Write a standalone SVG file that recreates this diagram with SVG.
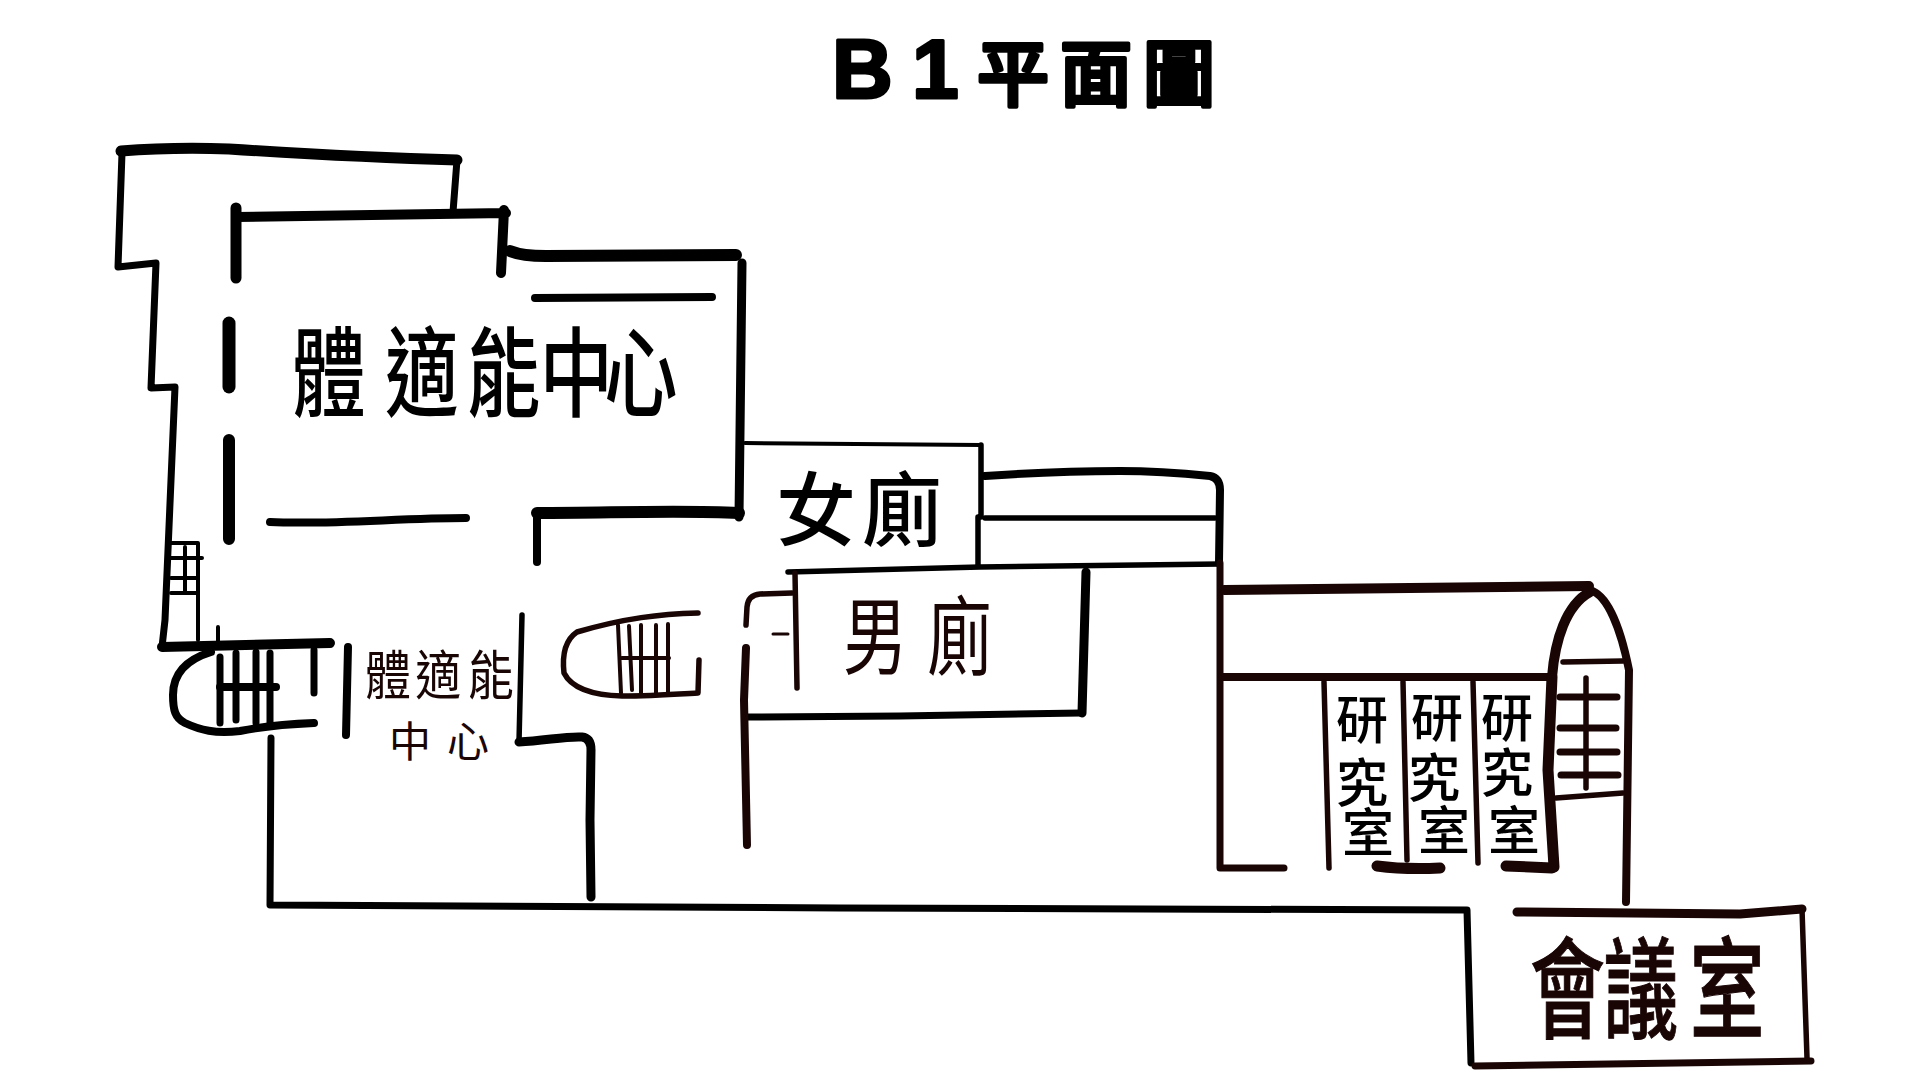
<svg xmlns="http://www.w3.org/2000/svg" width="1920" height="1080" viewBox="0 0 1920 1080">
<style>
path{fill:none;stroke:#000;stroke-linecap:round;stroke-linejoin:round}
.d path,path.d{stroke:#1a0505}
.w3{stroke-width:3}.w4{stroke-width:4}.w5{stroke-width:5.5}.w6{stroke-width:7}.w7{stroke-width:8}.w8{stroke-width:9}.w9{stroke-width:10}.w10{stroke-width:11}.w11{stroke-width:12}.w12{stroke-width:13}
text{font-family:"Noto Sans CJK TC","Noto Sans CJK SC",sans-serif;fill:#000}
.dt{fill:#1a0505}
</style>
<rect width="1920" height="1080" fill="#fff"/>
<g id="title"><text y="98" font-size="72" font-weight="500" stroke="#000" stroke-width="4" stroke-linejoin="round"><tspan font-family="Liberation Sans" font-weight="700" font-size="84" stroke-width="3" x="832 912">B1</tspan><tspan x="977 1060 1143" y="100">平面圖</tspan></text></g>
<g id="fitness-walls">
<path class="w10" d="M121 151C160 148 200 148 229 149C290 153 380 158 457 160"/>
<path class="w6" d="M457 160L453 212M122 153L118 267L156 263L151 388L175 387L165 620L162 647"/>
<path class="w9" d="M236 217L506 213M504 210L501 273"/>
<path class="w10" d="M236 208L236 278"/>
<path class="w11" d="M510 251C520 255 535 256 546 256L736 255"/>
<path class="w8" d="M742 263L739 517"/>
<path class="w7" d="M535 298L712 297M270 522C330 525 400 518 466 518"/>
<path class="w12" d="M229 323L229 387"/>
<path class="w11" d="M229 440L229 539M537 513C610 513 680 510 739 513"/>
<path class="w7" d="M537 518L537 562"/>
<path class="w9" d="M162 647L330 643"/>
</g>
<g id="small-stair">
<path class="w4" d="M171 543L198 543L198 640M171 558H202M171 578H198M171 593H198M185 547V592M218 627V643"/>
</g>
<g id="left-stair">
<path class="w7" d="M211 652C185 660 173 675 173 695C173 710 175 718 185 723C200 730 215 734 240 731C265 726 290 724 314 723"/>
<path class="w6" d="M220 657V723M236 653V720M256 652V723M270 653V723M314 650V693"/>
<path class="w7" d="M220 687H276"/>
<path class="w7" d="M348 647L346 735"/>
</g>
<g id="corridor-walls">
<path class="w5" d="M522 615L519 742"/>
<path class="w8" d="M519 742C545 741 565 736 582 737Q591 738 591 750L590 820L591 897"/>
<path class="w6" d="M271 738L270 905L840 908L1467 910L1471 1063"/>
</g>
<g id="right-stair" class="d">
<path class="w5" d="M698 613C660 614 625 618 577 632C565 640 562 655 564 673C570 685 585 695 622 696C650 696 680 694 698 693L699 660"/>
<path class="w4" d="M618 625L621 693M629 626L632 690M641 625V693M656 625V693M668 624V693M622 658H669"/>
</g>
<g id="womens-room">
<path class="w4" d="M745 443L981 445"/>
<path class="w5" d="M981 445L981 517M978 517V565"/>
<path class="w7" d="M985 476C1030 473 1080 471 1120 471C1160 471 1190 474 1210 476Q1220 478 1220 490L1219 563"/>
<path class="w5" d="M985 518L1215 518M788 572L980 567L1220 564"/>
</g>
<g id="mens-room">
<path class="w5 d" d="M795 573L797 688"/>
<path class="w8" d="M1086 572L1082 713"/>
<path class="w6" d="M747 717L900 716L1081 713"/>
<path class="w5 d" d="M792 593L760 594Q748 595 747 607L746 625"/>
<path class="w3 d" d="M773 634H788"/>
<path class="w7 d" d="M746 648L744 700L747 845"/>
</g>
<g id="research-rooms" class="d">
<path class="w6" d="M1220 563V868L1284 868"/>
<path class="w9" d="M1224 590L1589 586"/>
<path class="w7" d="M1222 677L1551 677"/>
<path class="w5" d="M1324 682L1329 868M1403 682L1407 860M1473 682L1478 863"/>
<path class="w10" d="M1377 866C1400 869 1420 869 1440 868M1506 866L1552 868"/>
<path class="w9" d="M1552 677C1555 640 1566 605 1590 592"/>
<path class="w10" d="M1552 677L1548 770L1554 867"/>
<path class="w7" d="M1590 590C1608 595 1621 630 1629 670L1626 902"/>
<path class="w5" d="M1563 662L1623 661M1556 798L1623 793"/>
<path class="w5" d="M1586 678V788"/>
<path class="w6" d="M1560 697H1617M1560 728H1616M1560 752H1617M1561 775H1618"/>
</g>
<g id="meeting-room" class="d">
<path class="w8" d="M1517 912L1740 914L1802 909"/>
<path class="w5" d="M1802 909L1807 1058"/>
<path class="w6" d="M1475 1066L1811 1061"/>
</g>
<g id="label-fitness"><text transform="translate(292 409) scale(.75 1)" font-size="98" font-weight="500" x="0 124 233 330 416">體適能中心</text></g>
<g id="label-fitness-2"><text class="dt" transform="translate(365 695) scale(.85 1)" font-size="54" x="0 59 121">體適能</text><text class="dt" font-size="42" y="757" x="389 447">中心</text></g>
<g id="label-women"><text font-size="80" font-weight="500" y="539" x="776 862">女廁</text></g>
<g id="label-men"><text class="dt" transform="translate(843 668) scale(.76 1)" font-size="85" x="0 111">男廁</text></g>
<g id="label-research" font-size="52" font-weight="500">
<text y="739 802 852" x="1336 1336 1342">研究室</text>
<text y="737 797 850" x="1411 1408 1418">研究室</text>
<text y="737 792 850" x="1481 1481 1488">研究室</text>
</g>
<g id="label-meeting"><text transform="translate(1530 1030) scale(.68 1)" font-size="110" x="0 108 235" font-weight="500" stroke="#1a0505" stroke-width="1" class="dt">會議室</text></g>
</svg>
